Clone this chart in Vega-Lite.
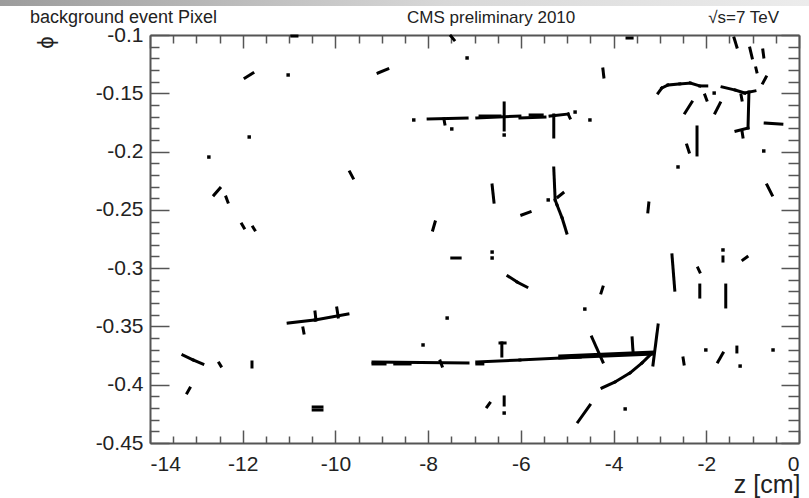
{
 "$schema": "https://vega.github.io/schema/vega-lite/v6.json",
 "width": 649, "height": 408,
 "autosize": {"type": "none"},
 "padding": {"left": 150, "top": 35, "right": 10, "bottom": 55},
 "background": "white",
 "config": {"view": {"stroke": null}, "font": "Liberation Sans"},
 "datasets": {
  "hits": [{"z":-8.31,"phi":-0.1729},{"z":-7.49,"phi":-0.1806},{"z":-6.36,"phi":-0.1858},{"z":-4.83,"phi":-0.1661},{"z":-4.51,"phi":-0.1729},{"z":-1.83,"phi":-0.1498},{"z":-0.76,"phi":-0.1995},{"z":-2.61,"phi":-0.2132},{"z":-12.73,"phi":-0.2047},{"z":-11.86,"phi":-0.1875},{"z":-11.02,"phi":-0.1343},{"z":-7.16,"phi":-0.1197},{"z":-5.41,"phi":-0.2415},{"z":-6.62,"phi":-0.2862},{"z":-6.62,"phi":-0.2913},{"z":-1.64,"phi":-0.2844},{"z":-7.59,"phi":-0.3428},{"z":-8.11,"phi":-0.3659},{"z":-3.75,"phi":-0.4208},{"z":-4.62,"phi":-0.3351},{"z":-6.36,"phi":-0.4243},{"z":-2.01,"phi":-0.3702},{"z":-1.27,"phi":-0.384},{"z":-0.56,"phi":-0.3702}],
  "tracks": [
   {"z1":-11.95,"p1":-0.1369,"z2":-11.78,"p2":-0.1326},
   {"z1":-9.08,"p1":-0.1326,"z2":-8.87,"p2":-0.1292},
   {"z1":-10.94,"p1":-0.1009,"z2":-10.83,"p2":-0.1009},
   {"z1":-3.71,"p1":-0.1026,"z2":-3.6,"p2":-0.1026},
   {"z1":-7.51,"p1":-0.1009,"z2":-7.44,"p2":-0.1043},
   {"z1":-8.0,"p1":-0.1721,"z2":-7.16,"p2":-0.1712},
   {"z1":-7.66,"p1":-0.1721,"z2":-7.64,"p2":-0.1764},
   {"z1":-6.95,"p1":-0.1712,"z2":-6.02,"p2":-0.1695},
   {"z1":-6.88,"p1":-0.1695,"z2":-6.45,"p2":-0.1695},
   {"z1":-6.02,"p1":-0.1712,"z2":-5.48,"p2":-0.1703},
   {"z1":-5.8,"p1":-0.1686,"z2":-5.54,"p2":-0.1686},
   {"z1":-5.37,"p1":-0.1695,"z2":-4.98,"p2":-0.1678},
   {"z1":-4.98,"p1":-0.1678,"z2":-4.94,"p2":-0.1712},
   {"z1":-6.36,"p1":-0.1583,"z2":-6.36,"p2":-0.1815},
   {"z1":-5.29,"p1":-0.1686,"z2":-5.29,"p2":-0.1875},
   {"z1":-3.04,"p1":-0.1498,"z2":-2.96,"p2":-0.1455},
   {"z1":-2.96,"p1":-0.1455,"z2":-2.83,"p2":-0.1429},
   {"z1":-2.83,"p1":-0.1429,"z2":-2.57,"p2":-0.142},
   {"z1":-2.57,"p1":-0.142,"z2":-2.35,"p2":-0.1412},
   {"z1":-2.35,"p1":-0.1412,"z2":-2.14,"p2":-0.1437},
   {"z1":-2.14,"p1":-0.1437,"z2":-1.99,"p2":-0.1437},
   {"z1":-2.03,"p1":-0.1515,"z2":-1.99,"p2":-0.1558},
   {"z1":-1.66,"p1":-0.1446,"z2":-1.38,"p2":-0.1472},
   {"z1":-1.38,"p1":-0.1472,"z2":-1.17,"p2":-0.1498},
   {"z1":-1.17,"p1":-0.1498,"z2":-0.95,"p2":-0.148},
   {"z1":-1.08,"p1":-0.1489,"z2":-1.1,"p2":-0.1798},
   {"z1":-1.1,"p1":-0.1798,"z2":-1.36,"p2":-0.1824},
   {"z1":-1.23,"p1":-0.1824,"z2":-1.21,"p2":-0.1875},
   {"z1":-1.25,"p1":-0.1515,"z2":-1.23,"p2":-0.1558},
   {"z1":-2.46,"p1":-0.1669,"z2":-2.31,"p2":-0.1575},
   {"z1":-1.81,"p1":-0.1669,"z2":-1.7,"p2":-0.1583},
   {"z1":-0.73,"p1":-0.1755,"z2":-0.37,"p2":-0.1764},
   {"z1":-2.2,"p1":-0.1789,"z2":-2.2,"p2":-0.2029},
   {"z1":-2.42,"p1":-0.1944,"z2":-2.37,"p2":-0.2004},
   {"z1":-1.4,"p1":-0.1026,"z2":-1.34,"p2":-0.1103},
   {"z1":-1.06,"p1":-0.1112,"z2":-1.01,"p2":-0.1197},
   {"z1":-0.78,"p1":-0.1129,"z2":-0.76,"p2":-0.1189},
   {"z1":-4.23,"p1":-0.1292,"z2":-4.21,"p2":-0.136},
   {"z1":-0.93,"p1":-0.1283,"z2":-0.91,"p2":-0.1317},
   {"z1":-0.71,"p1":-0.136,"z2":-0.78,"p2":-0.1412},
   {"z1":-9.69,"p1":-0.2175,"z2":-9.62,"p2":-0.2227},
   {"z1":-12.62,"p1":-0.2373,"z2":-12.49,"p2":-0.2313},
   {"z1":-12.36,"p1":-0.239,"z2":-12.32,"p2":-0.2433},
   {"z1":-12.02,"p1":-0.2621,"z2":-11.97,"p2":-0.2656},
   {"z1":-11.78,"p1":-0.2647,"z2":-11.74,"p2":-0.2673},
   {"z1":-6.62,"p1":-0.2287,"z2":-6.58,"p2":-0.2433},
   {"z1":-7.85,"p1":-0.2604,"z2":-7.9,"p2":-0.2673},
   {"z1":-5.98,"p1":-0.2544,"z2":-5.8,"p2":-0.2518},
   {"z1":-5.29,"p1":-0.2141,"z2":-5.26,"p2":-0.2415},
   {"z1":-5.26,"p1":-0.2415,"z2":-5.22,"p2":-0.2458},
   {"z1":-5.22,"p1":-0.2458,"z2":-5.11,"p2":-0.257},
   {"z1":-5.11,"p1":-0.257,"z2":-5.01,"p2":-0.2699},
   {"z1":-5.2,"p1":-0.239,"z2":-5.09,"p2":-0.2355},
   {"z1":-7.49,"p1":-0.2913,"z2":-7.31,"p2":-0.2913},
   {"z1":-6.28,"p1":-0.3067,"z2":-6.08,"p2":-0.3119},
   {"z1":-6.08,"p1":-0.3119,"z2":-5.87,"p2":-0.3162},
   {"z1":-0.69,"p1":-0.2287,"z2":-0.58,"p2":-0.2373},
   {"z1":-3.24,"p1":-0.2441,"z2":-3.26,"p2":-0.2518},
   {"z1":-2.74,"p1":-0.2887,"z2":-2.68,"p2":-0.3188},
   {"z1":-1.64,"p1":-0.2904,"z2":-1.64,"p2":-0.2939},
   {"z1":-1.21,"p1":-0.293,"z2":-1.12,"p2":-0.2904},
   {"z1":-2.18,"p1":-0.2999,"z2":-2.14,"p2":-0.3033},
   {"z1":-2.14,"p1":-0.3145,"z2":-2.14,"p2":-0.3248},
   {"z1":-1.58,"p1":-0.3145,"z2":-1.58,"p2":-0.3333},
   {"z1":-4.23,"p1":-0.3162,"z2":-4.27,"p2":-0.3213},
   {"z1":-11.02,"p1":-0.3471,"z2":-10.44,"p2":-0.3445},
   {"z1":-10.44,"p1":-0.3445,"z2":-9.73,"p2":-0.3393},
   {"z1":-10.44,"p1":-0.3376,"z2":-10.42,"p2":-0.3445},
   {"z1":-9.97,"p1":-0.3342,"z2":-9.94,"p2":-0.3419},
   {"z1":-10.7,"p1":-0.3514,"z2":-10.68,"p2":-0.3556},
   {"z1":-13.29,"p1":-0.3745,"z2":-13.07,"p2":-0.3788},
   {"z1":-13.07,"p1":-0.3788,"z2":-12.86,"p2":-0.3822},
   {"z1":-12.51,"p1":-0.3814,"z2":-12.47,"p2":-0.384},
   {"z1":-11.8,"p1":-0.3805,"z2":-11.8,"p2":-0.3848},
   {"z1":-13.2,"p1":-0.4071,"z2":-13.14,"p2":-0.4028},
   {"z1":-10.48,"p1":-0.4191,"z2":-10.29,"p2":-0.4191},
   {"z1":-10.48,"p1":-0.4217,"z2":-10.29,"p2":-0.4217},
   {"z1":-9.19,"p1":-0.3805,"z2":-7.14,"p2":-0.3814},
   {"z1":-9.19,"p1":-0.3822,"z2":-8.93,"p2":-0.3822},
   {"z1":-8.72,"p1":-0.3822,"z2":-8.39,"p2":-0.3822},
   {"z1":-7.74,"p1":-0.3797,"z2":-7.7,"p2":-0.384},
   {"z1":-6.95,"p1":-0.3805,"z2":-6.02,"p2":-0.3788},
   {"z1":-6.95,"p1":-0.3822,"z2":-6.82,"p2":-0.3822},
   {"z1":-6.02,"p1":-0.3788,"z2":-4.72,"p2":-0.3762},
   {"z1":-5.16,"p1":-0.3771,"z2":-3.15,"p2":-0.3737},
   {"z1":-5.16,"p1":-0.3754,"z2":-3.15,"p2":-0.3719},
   {"z1":-6.41,"p1":-0.3642,"z2":-6.41,"p2":-0.3754},
   {"z1":-6.45,"p1":-0.3642,"z2":-6.34,"p2":-0.3642},
   {"z1":-3.04,"p1":-0.3488,"z2":-3.15,"p2":-0.3831},
   {"z1":-4.47,"p1":-0.3591,"z2":-4.23,"p2":-0.3805},
   {"z1":-3.6,"p1":-0.3599,"z2":-3.58,"p2":-0.3719},
   {"z1":-4.25,"p1":-0.4028,"z2":-3.97,"p2":-0.3977},
   {"z1":-3.97,"p1":-0.3977,"z2":-3.65,"p2":-0.39},
   {"z1":-3.65,"p1":-0.39,"z2":-3.39,"p2":-0.3814},
   {"z1":-3.39,"p1":-0.3814,"z2":-3.21,"p2":-0.3745},
   {"z1":-4.77,"p1":-0.432,"z2":-4.51,"p2":-0.4174},
   {"z1":-6.73,"p1":-0.4191,"z2":-6.67,"p2":-0.4157},
   {"z1":-6.36,"p1":-0.4105,"z2":-6.36,"p2":-0.4174},
   {"z1":-2.5,"p1":-0.3771,"z2":-2.48,"p2":-0.3822},
   {"z1":-1.75,"p1":-0.3805,"z2":-1.64,"p2":-0.3728},
   {"z1":-1.34,"p1":-0.3677,"z2":-1.34,"p2":-0.3719}
  ]
 },
 "layer": [
  {
   "data": {"values": [{}]},
   "mark": {"type": "rect", "clip": false,
    "color": {"gradient": "linear", "x1": 0, "x2": 1, "y1": 0, "y2": 0,
     "stops": [{"offset": 0, "color": "#9c9c9c"}, {"offset": 0.55, "color": "#d8d8d8"}, {"offset": 1, "color": "#ececec"}]}},
   "encoding": {
    "x": {"datum": -17.24, "type": "quantitative", "axis": null},
    "x2": {"datum": 0.22},
    "y": {"datum": -0.07, "type": "quantitative", "axis": null},
    "y2": {"datum": -0.0752}
   }
  },
  {
   "data": {"name": "hits"},
   "mark": {"type": "point", "shape": "square", "filled": true, "size": 12, "color": "black", "opacity": 1},
   "encoding": {
    "x": {"field": "z", "type": "quantitative",
     "scale": {"domain": [-14, 0], "nice": false, "zero": false},
     "axis": {"orient": "bottom", "values": [-14,-12,-10,-8,-6,-4,-2,0], "tickSize": -13, "tickColor": "#555", "tickWidth": 1.5,
      "domainColor": "#555", "domainWidth": 2, "grid": false,
      "labelExpr": "datum.value < 0 ? '-' + format(abs(datum.value), 'd') : '0'",
      "labelFont": "Liberation Sans", "labelFontSize": 21, "labelColor": "#222", "labelPadding": 23, "labelOverlap": false,
      "title": "z [cm]", "titleFont": "Liberation Sans", "titleFontSize": 25, "titleFontWeight": "normal", "titleColor": "#222",
      "titleAnchor": "end", "titleAlign": "right", "titleX": 650, "titleY": 49, "titleBaseline": "alphabetic"}
    },
    "y": {"field": "phi", "type": "quantitative",
     "scale": {"domain": [-0.45, -0.1], "nice": false, "zero": false},
     "axis": {"orient": "left", "values": [-0.45,-0.4,-0.35,-0.3,-0.25,-0.2,-0.15,-0.1], "tickSize": -19, "tickColor": "#555", "tickWidth": 1.5,
      "domainColor": "#555", "domainWidth": 2, "grid": false,
      "labelExpr": "'-' + format(abs(datum.value), '.2~f')",
      "labelFont": "Liberation Sans", "labelFontSize": 21, "labelColor": "#222", "labelPadding": 26, "labelOverlap": false,
      "title": "ϕ", "titleFont": "Liberation Sans", "titleFontSize": 22, "titleFontWeight": "normal", "titleColor": "#222",
      "titleAngle": 270, "titleX": -105, "titleY": 7, "titleAlign": "center", "titleBaseline": "middle"}
    }
   }
  },
  {
   "data": {"name": "tracks"},
   "transform": [{"filter": "datum.z1 < -8"}],
   "mark": {"type": "rule", "strokeWidth": 3, "color": "black", "strokeCap": "square"},
   "encoding": {
    "x": {"field": "z1", "type": "quantitative",
     "axis": {"orient": "top", "values": [-14,-12,-10,-8,-6,-4,-2,0], "tickSize": -13, "tickColor": "#555", "tickWidth": 1.5,
      "labels": false, "grid": false, "title": null, "domainColor": "#555", "domainWidth": 2}},
    "x2": {"field": "z2"},
    "y": {"field": "p1", "type": "quantitative",
     "axis": {"orient": "right", "values": [-0.45,-0.4,-0.35,-0.3,-0.25,-0.2,-0.15,-0.1], "tickSize": -18, "tickColor": "#555", "tickWidth": 1.5,
      "labels": false, "grid": false, "title": null, "domainColor": "#555", "domainWidth": 2}},
    "y2": {"field": "p2"}
   }
  },
  {
   "data": {"name": "tracks"},
   "transform": [{"filter": "datum.z1 >= -8 && datum.z1 < -4.5"}],
   "mark": {"type": "rule", "strokeWidth": 3, "color": "black", "strokeCap": "square"},
   "encoding": {
    "x": {"field": "z1", "type": "quantitative",
     "axis": {"orient": "bottom", "values": [-13.5,-13,-12.5,-11.5,-11,-10.5,-9.5,-9,-8.5,-7.5,-7,-6.5,-5.5,-5,-4.5,-3.5,-3,-2.5,-1.5,-1,-0.5],
      "offset": -7, "tickSize": 7, "tickColor": "#555", "tickWidth": 1.5,
      "domain": false, "labels": false, "grid": false, "title": null}},
    "x2": {"field": "z2"},
    "y": {"field": "p1", "type": "quantitative",
     "axis": {"orient": "left", "values": [-0.44,-0.43,-0.42,-0.41,-0.39,-0.38,-0.37,-0.36,-0.34,-0.33,-0.32,-0.31,-0.29,-0.28,-0.27,-0.26,-0.24,-0.23,-0.22,-0.21,-0.19,-0.18,-0.17,-0.16,-0.14,-0.13,-0.12,-0.11],
      "offset": -9, "tickSize": 9, "tickColor": "#555", "tickWidth": 1.5,
      "domain": false, "labels": false, "grid": false, "title": null}},
    "y2": {"field": "p2"}
   }
  },
  {
   "data": {"name": "tracks"},
   "transform": [{"filter": "datum.z1 >= -4.5"}],
   "mark": {"type": "rule", "strokeWidth": 3, "color": "black", "strokeCap": "square"},
   "encoding": {
    "x": {"field": "z1", "type": "quantitative",
     "axis": {"orient": "top", "values": [-13.5,-13,-12.5,-11.5,-11,-10.5,-9.5,-9,-8.5,-7.5,-7,-6.5,-5.5,-5,-4.5,-3.5,-3,-2.5,-1.5,-1,-0.5],
      "offset": -8, "tickSize": 8, "tickColor": "#555", "tickWidth": 1.5,
      "domain": false, "labels": false, "grid": false, "title": null}},
    "x2": {"field": "z2"},
    "y": {"field": "p1", "type": "quantitative",
     "axis": {"orient": "right", "values": [-0.44,-0.43,-0.42,-0.41,-0.39,-0.38,-0.37,-0.36,-0.34,-0.33,-0.32,-0.31,-0.29,-0.28,-0.27,-0.26,-0.24,-0.23,-0.22,-0.21,-0.19,-0.18,-0.17,-0.16,-0.14,-0.13,-0.12,-0.11],
      "offset": -11, "tickSize": 11, "tickColor": "#555", "tickWidth": 1.5,
      "domain": false, "labels": false, "grid": false, "title": null}},
    "y2": {"field": "p2"}
   }
  },
  {
   "data": {"values": [{}]},
   "mark": {"type": "text", "align": "left", "baseline": "alphabetic", "font": "Liberation Sans", "fontSize": 18, "color": "#222"},
   "encoding": {
    "x": {"datum": -16.59, "type": "quantitative", "axis": null},
    "y": {"datum": -0.0893, "type": "quantitative", "axis": null},
    "text": {"value": "background event Pixel"}
   }
  },
  {
   "data": {"values": [{}]},
   "mark": {"type": "text", "align": "center", "baseline": "alphabetic", "font": "Liberation Sans", "fontSize": 17, "color": "#222"},
   "encoding": {
    "x": {"datum": -6.64, "type": "quantitative", "axis": null},
    "y": {"datum": -0.0893, "type": "quantitative", "axis": null},
    "text": {"value": "CMS preliminary 2010"}
   }
  },
  {
   "data": {"values": [{}]},
   "mark": {"type": "text", "align": "left", "baseline": "alphabetic", "font": "Liberation Sans", "fontSize": 17, "color": "#222"},
   "encoding": {
    "x": {"datum": -1.96, "type": "quantitative", "axis": null},
    "y": {"datum": -0.0893, "type": "quantitative", "axis": null},
    "text": {"value": "√s=7 TeV"}
   }
  }
 ],
 "resolve": {"axis": {"x": "independent", "y": "independent"}}
}
